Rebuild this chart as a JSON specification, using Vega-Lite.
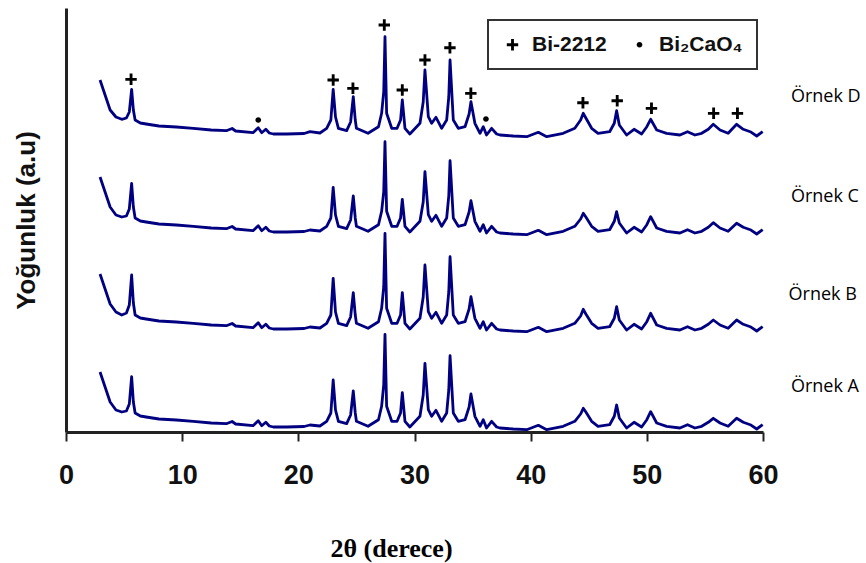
{
 "$schema": "https://vega.github.io/schema/vega-lite/v6.json",
 "width": 697,
 "height": 424,
 "autosize": {"type": "none"},
 "padding": {"left": 66, "top": 8, "right": 103, "bottom": 131},
 "background": "white",
 "config": {"view": {"stroke": null}, "legend": {"strokeWidth": 2}},
 "datasets": {
  "xrd": [
{"s":"D","x":2.93,"y":352},{"s":"D","x":3.8,"y":322},{"s":"D","x":4.3,"y":315},{"s":"D","x":4.8,"y":312.7},{"s":"D","x":5.2,"y":314},{"s":"D","x":5.45,"y":320},{"s":"D","x":5.65,"y":342.7},{"s":"D","x":5.8,"y":322},{"s":"D","x":5.95,"y":312},{"s":"D","x":6.4,"y":309},
{"s":"D","x":6.9,"y":308},{"s":"D","x":8,"y":306},{"s":"D","x":9.5,"y":305},{"s":"D","x":10.96,"y":303.7},{"s":"D","x":12.5,"y":302},{"s":"D","x":13.8,"y":301.3},{"s":"D","x":14.3,"y":303.5},{"s":"D","x":14.6,"y":301},{"s":"D","x":16.1,"y":299.3},{"s":"D","x":16.55,"y":304.3},
{"s":"D","x":16.85,"y":299.3},{"s":"D","x":17.2,"y":302.7},{"s":"D","x":17.5,"y":299},{"s":"D","x":17.85,"y":298},{"s":"D","x":19,"y":298},{"s":"D","x":20.5,"y":298.5},{"s":"D","x":21,"y":300.3},{"s":"D","x":21.86,"y":299},{"s":"D","x":22.44,"y":303.7},{"s":"D","x":22.8,"y":312},
{"s":"D","x":23,"y":342.7},{"s":"D","x":23.2,"y":315},{"s":"D","x":23.45,"y":303.7},{"s":"D","x":24.16,"y":301.3},{"s":"D","x":24.5,"y":310},{"s":"D","x":24.73,"y":335.3},{"s":"D","x":24.9,"y":312},{"s":"D","x":25,"y":303.7},{"s":"D","x":26,"y":298.7},{"s":"D","x":26.9,"y":305.3},
{"s":"D","x":27.17,"y":318.7},{"s":"D","x":27.35,"y":340},{"s":"D","x":27.46,"y":395.3},{"s":"D","x":27.6,"y":318.7},{"s":"D","x":28.04,"y":303.7},{"s":"D","x":28.5,"y":303.7},{"s":"D","x":28.8,"y":312},{"s":"D","x":28.95,"y":332},{"s":"D","x":29.18,"y":303.7},{"s":"D","x":29.6,"y":298},
{"s":"D","x":30.47,"y":308.7},{"s":"D","x":30.75,"y":330},{"s":"D","x":30.9,"y":362},{"s":"D","x":31.19,"y":315.3},{"s":"D","x":31.48,"y":308.7},{"s":"D","x":31.85,"y":314.7},{"s":"D","x":32.34,"y":303.7},{"s":"D","x":32.77,"y":312},{"s":"D","x":32.95,"y":335},{"s":"D","x":33.06,"y":372},
{"s":"D","x":33.34,"y":312},{"s":"D","x":33.77,"y":303.7},{"s":"D","x":34.35,"y":305.3},{"s":"D","x":34.7,"y":318},{"s":"D","x":34.86,"y":330.3},{"s":"D","x":35.2,"y":308.7},{"s":"D","x":35.64,"y":298.7},{"s":"D","x":35.92,"y":305.3},{"s":"D","x":36.2,"y":297},{"s":"D","x":36.64,"y":303.7},
{"s":"D","x":37.07,"y":298},{"s":"D","x":37.36,"y":297},{"s":"D","x":38.5,"y":296},{"s":"D","x":39.66,"y":295.3},{"s":"D","x":40.66,"y":299.7},{"s":"D","x":41.38,"y":295.3},{"s":"D","x":42.8,"y":298.7},{"s":"D","x":43.8,"y":303.7},{"s":"D","x":44.3,"y":312},{"s":"D","x":44.53,"y":318.7},
{"s":"D","x":44.75,"y":314},{"s":"D","x":45.25,"y":303.7},{"s":"D","x":45.8,"y":298.7},{"s":"D","x":46.8,"y":300.3},{"s":"D","x":47.2,"y":308.7},{"s":"D","x":47.4,"y":321.3},{"s":"D","x":47.63,"y":307},{"s":"D","x":48.26,"y":297},{"s":"D","x":48.9,"y":302.7},{"s":"D","x":49.55,"y":298},
{"s":"D","x":50,"y":305.3},{"s":"D","x":50.33,"y":312.7},{"s":"D","x":50.85,"y":302},{"s":"D","x":51.7,"y":298.7},{"s":"D","x":52.85,"y":297},{"s":"D","x":53.5,"y":300.3},{"s":"D","x":54.14,"y":297},{"s":"D","x":54.72,"y":298.7},{"s":"D","x":55.29,"y":302.7},{"s":"D","x":55.72,"y":307.7},
{"s":"D","x":56.3,"y":302},{"s":"D","x":57,"y":298.7},{"s":"D","x":57.73,"y":307.7},{"s":"D","x":58.3,"y":302.7},{"s":"D","x":58.9,"y":300.3},{"s":"D","x":59.46,"y":296},{"s":"D","x":59.97,"y":300.3},

{"s":"C","x":2.93,"y":255},{"s":"C","x":3.8,"y":225},{"s":"C","x":4.3,"y":217},{"s":"C","x":4.8,"y":215},{"s":"C","x":5.2,"y":216},{"s":"C","x":5.45,"y":223},{"s":"C","x":5.65,"y":248.7},{"s":"C","x":5.8,"y":225},{"s":"C","x":5.95,"y":214},{"s":"C","x":6.4,"y":211},
{"s":"C","x":6.9,"y":210},{"s":"C","x":8,"y":208},{"s":"C","x":9.5,"y":207},{"s":"C","x":10.96,"y":205.7},{"s":"C","x":12.5,"y":204},{"s":"C","x":13.8,"y":203.3},{"s":"C","x":14.3,"y":205.5},{"s":"C","x":14.6,"y":203},{"s":"C","x":16.1,"y":201.3},{"s":"C","x":16.55,"y":206.3},
{"s":"C","x":16.85,"y":201.3},{"s":"C","x":17.2,"y":204.7},{"s":"C","x":17.5,"y":201},{"s":"C","x":17.85,"y":200},{"s":"C","x":19,"y":200},{"s":"C","x":20.5,"y":200.5},{"s":"C","x":21,"y":202},{"s":"C","x":21.86,"y":201},{"s":"C","x":22.44,"y":205.7},{"s":"C","x":22.8,"y":214},
{"s":"C","x":23,"y":244.7},{"s":"C","x":23.2,"y":217},{"s":"C","x":23.45,"y":205.7},{"s":"C","x":24.16,"y":203.3},{"s":"C","x":24.5,"y":212},{"s":"C","x":24.73,"y":236},{"s":"C","x":24.9,"y":214},{"s":"C","x":25,"y":205.7},{"s":"C","x":26,"y":200.7},{"s":"C","x":26.9,"y":207.3},
{"s":"C","x":27.17,"y":220.7},{"s":"C","x":27.35,"y":240},{"s":"C","x":27.46,"y":290.3},{"s":"C","x":27.6,"y":220.7},{"s":"C","x":28.04,"y":205.7},{"s":"C","x":28.5,"y":205.7},{"s":"C","x":28.8,"y":214},{"s":"C","x":28.95,"y":232.7},{"s":"C","x":29.18,"y":205.7},{"s":"C","x":29.6,"y":200},
{"s":"C","x":30.47,"y":210.7},{"s":"C","x":30.75,"y":230},{"s":"C","x":30.9,"y":260.3},{"s":"C","x":31.19,"y":217.3},{"s":"C","x":31.48,"y":210.7},{"s":"C","x":31.85,"y":216.7},{"s":"C","x":32.34,"y":205.7},{"s":"C","x":32.77,"y":214},{"s":"C","x":32.95,"y":236},{"s":"C","x":33.06,"y":271.3},
{"s":"C","x":33.34,"y":214},{"s":"C","x":33.77,"y":205.7},{"s":"C","x":34.35,"y":207.3},{"s":"C","x":34.7,"y":220},{"s":"C","x":34.86,"y":231.3},{"s":"C","x":35.2,"y":210.7},{"s":"C","x":35.64,"y":200.7},{"s":"C","x":35.92,"y":207.3},{"s":"C","x":36.2,"y":199},{"s":"C","x":36.64,"y":205.7},
{"s":"C","x":37.07,"y":200},{"s":"C","x":37.36,"y":199},{"s":"C","x":38.5,"y":198},{"s":"C","x":39.66,"y":197.3},{"s":"C","x":40.66,"y":201.7},{"s":"C","x":41.38,"y":197.3},{"s":"C","x":42.8,"y":200.7},{"s":"C","x":43.8,"y":205.7},{"s":"C","x":44.3,"y":213},{"s":"C","x":44.53,"y":218.7},
{"s":"C","x":44.75,"y":215},{"s":"C","x":45.25,"y":205.7},{"s":"C","x":45.8,"y":200.7},{"s":"C","x":46.8,"y":202.3},{"s":"C","x":47.2,"y":210.7},{"s":"C","x":47.4,"y":220.3},{"s":"C","x":47.63,"y":209},{"s":"C","x":48.26,"y":199},{"s":"C","x":48.9,"y":204.7},{"s":"C","x":49.55,"y":200},
{"s":"C","x":50,"y":207.3},{"s":"C","x":50.33,"y":215.3},{"s":"C","x":50.85,"y":204},{"s":"C","x":51.7,"y":200.7},{"s":"C","x":52.85,"y":199},{"s":"C","x":53.5,"y":202.3},{"s":"C","x":54.14,"y":199},{"s":"C","x":54.72,"y":200.7},{"s":"C","x":55.29,"y":204.7},{"s":"C","x":55.72,"y":209.3},
{"s":"C","x":56.3,"y":204},{"s":"C","x":57,"y":200.7},{"s":"C","x":57.73,"y":208.7},{"s":"C","x":58.3,"y":204.7},{"s":"C","x":58.9,"y":202.3},{"s":"C","x":59.46,"y":198},{"s":"C","x":59.97,"y":202.3},

{"s":"B","x":2.93,"y":158},{"s":"B","x":3.8,"y":128},{"s":"B","x":4.3,"y":120},{"s":"B","x":4.8,"y":117},{"s":"B","x":5.2,"y":119},{"s":"B","x":5.45,"y":127},{"s":"B","x":5.65,"y":157},{"s":"B","x":5.8,"y":129},{"s":"B","x":5.95,"y":117},{"s":"B","x":6.4,"y":114},
{"s":"B","x":6.9,"y":113},{"s":"B","x":8,"y":111},{"s":"B","x":9.5,"y":110},{"s":"B","x":10.96,"y":108.7},{"s":"B","x":12.5,"y":107},{"s":"B","x":13.8,"y":106.3},{"s":"B","x":14.3,"y":108.5},{"s":"B","x":14.6,"y":106},{"s":"B","x":16.1,"y":104.3},{"s":"B","x":16.55,"y":109.3},
{"s":"B","x":16.85,"y":104.3},{"s":"B","x":17.2,"y":107.7},{"s":"B","x":17.5,"y":104},{"s":"B","x":17.85,"y":103},{"s":"B","x":19,"y":103},{"s":"B","x":20.5,"y":103.5},{"s":"B","x":21,"y":105},{"s":"B","x":21.86,"y":104},{"s":"B","x":22.44,"y":108.7},{"s":"B","x":22.8,"y":117},
{"s":"B","x":23,"y":153.7},{"s":"B","x":23.2,"y":120},{"s":"B","x":23.45,"y":108.7},{"s":"B","x":24.16,"y":106.3},{"s":"B","x":24.5,"y":115},{"s":"B","x":24.73,"y":139.3},{"s":"B","x":24.9,"y":117},{"s":"B","x":25,"y":108.7},{"s":"B","x":26,"y":103.7},{"s":"B","x":26.9,"y":110.3},
{"s":"B","x":27.17,"y":123.7},{"s":"B","x":27.35,"y":145},{"s":"B","x":27.46,"y":198.7},{"s":"B","x":27.6,"y":123.7},{"s":"B","x":28.04,"y":108.7},{"s":"B","x":28.5,"y":108.7},{"s":"B","x":28.8,"y":117},{"s":"B","x":28.95,"y":139.3},{"s":"B","x":29.18,"y":108.7},{"s":"B","x":29.6,"y":103},
{"s":"B","x":30.47,"y":113.7},{"s":"B","x":30.75,"y":135},{"s":"B","x":30.9,"y":167},{"s":"B","x":31.19,"y":120.3},{"s":"B","x":31.48,"y":113.7},{"s":"B","x":31.85,"y":119.7},{"s":"B","x":32.34,"y":108.7},{"s":"B","x":32.77,"y":117},{"s":"B","x":32.95,"y":140},{"s":"B","x":33.06,"y":175.3},
{"s":"B","x":33.34,"y":117},{"s":"B","x":33.77,"y":108.7},{"s":"B","x":34.35,"y":110.3},{"s":"B","x":34.7,"y":123},{"s":"B","x":34.86,"y":135.3},{"s":"B","x":35.2,"y":113.7},{"s":"B","x":35.64,"y":103.7},{"s":"B","x":35.92,"y":110.3},{"s":"B","x":36.2,"y":102},{"s":"B","x":36.64,"y":108.7},
{"s":"B","x":37.07,"y":103},{"s":"B","x":37.36,"y":102},{"s":"B","x":38.5,"y":101},{"s":"B","x":39.66,"y":100.3},{"s":"B","x":40.66,"y":104.7},{"s":"B","x":41.38,"y":100.3},{"s":"B","x":42.8,"y":103.7},{"s":"B","x":43.8,"y":108.7},{"s":"B","x":44.3,"y":116},{"s":"B","x":44.53,"y":122.7},
{"s":"B","x":44.75,"y":118},{"s":"B","x":45.25,"y":108.7},{"s":"B","x":45.8,"y":103.7},{"s":"B","x":46.8,"y":105.3},{"s":"B","x":47.2,"y":113.7},{"s":"B","x":47.4,"y":125.3},{"s":"B","x":47.63,"y":112},{"s":"B","x":48.26,"y":102},{"s":"B","x":48.9,"y":107.7},{"s":"B","x":49.55,"y":103},
{"s":"B","x":50,"y":110.3},{"s":"B","x":50.33,"y":118.7},{"s":"B","x":50.85,"y":107},{"s":"B","x":51.7,"y":103.7},{"s":"B","x":52.85,"y":102},{"s":"B","x":53.5,"y":105.3},{"s":"B","x":54.14,"y":102},{"s":"B","x":54.72,"y":103.7},{"s":"B","x":55.29,"y":107.7},{"s":"B","x":55.72,"y":112},
{"s":"B","x":56.3,"y":107},{"s":"B","x":57,"y":103.7},{"s":"B","x":57.73,"y":112},{"s":"B","x":58.3,"y":107.7},{"s":"B","x":58.9,"y":105.3},{"s":"B","x":59.46,"y":101},{"s":"B","x":59.97,"y":105.3},

{"s":"A","x":2.93,"y":60},{"s":"A","x":3.8,"y":30},{"s":"A","x":4.3,"y":22},{"s":"A","x":4.8,"y":20},{"s":"A","x":5.2,"y":21},{"s":"A","x":5.45,"y":28},{"s":"A","x":5.65,"y":55.3},{"s":"A","x":5.8,"y":30},{"s":"A","x":5.95,"y":19},{"s":"A","x":6.4,"y":16},
{"s":"A","x":6.9,"y":15},{"s":"A","x":8,"y":13},{"s":"A","x":9.5,"y":12},{"s":"A","x":10.96,"y":10.7},{"s":"A","x":12.5,"y":9},{"s":"A","x":13.8,"y":8.3},{"s":"A","x":14.3,"y":10.5},{"s":"A","x":14.6,"y":8},{"s":"A","x":16.1,"y":6.3},{"s":"A","x":16.55,"y":11.3},
{"s":"A","x":16.85,"y":6.3},{"s":"A","x":17.2,"y":9.7},{"s":"A","x":17.5,"y":6},{"s":"A","x":17.85,"y":5},{"s":"A","x":19,"y":5},{"s":"A","x":20.5,"y":5.5},{"s":"A","x":21,"y":7},{"s":"A","x":21.86,"y":6},{"s":"A","x":22.44,"y":10.7},{"s":"A","x":22.8,"y":19},
{"s":"A","x":23,"y":52},{"s":"A","x":23.2,"y":22},{"s":"A","x":23.45,"y":10.7},{"s":"A","x":24.16,"y":8.3},{"s":"A","x":24.5,"y":17},{"s":"A","x":24.73,"y":41},{"s":"A","x":24.9,"y":19},{"s":"A","x":25,"y":10.7},{"s":"A","x":26,"y":5.7},{"s":"A","x":26.9,"y":12.3},
{"s":"A","x":27.17,"y":25.7},{"s":"A","x":27.35,"y":47},{"s":"A","x":27.46,"y":97.7},{"s":"A","x":27.6,"y":25.7},{"s":"A","x":28.04,"y":10.7},{"s":"A","x":28.5,"y":10.7},{"s":"A","x":28.8,"y":19},{"s":"A","x":28.95,"y":39.3},{"s":"A","x":29.18,"y":10.7},{"s":"A","x":29.6,"y":5},
{"s":"A","x":30.47,"y":15.7},{"s":"A","x":30.75,"y":37},{"s":"A","x":30.9,"y":68.7},{"s":"A","x":31.19,"y":22.3},{"s":"A","x":31.48,"y":15.7},{"s":"A","x":31.85,"y":21.7},{"s":"A","x":32.34,"y":10.7},{"s":"A","x":32.77,"y":19},{"s":"A","x":32.95,"y":42},{"s":"A","x":33.06,"y":76.3},
{"s":"A","x":33.34,"y":19},{"s":"A","x":33.77,"y":10.7},{"s":"A","x":34.35,"y":12.3},{"s":"A","x":34.7,"y":25},{"s":"A","x":34.86,"y":38},{"s":"A","x":35.2,"y":15.7},{"s":"A","x":35.64,"y":5.7},{"s":"A","x":35.92,"y":12.3},{"s":"A","x":36.2,"y":4},{"s":"A","x":36.64,"y":10.7},
{"s":"A","x":37.07,"y":5},{"s":"A","x":37.36,"y":4},{"s":"A","x":38.5,"y":3},{"s":"A","x":39.66,"y":2.3},{"s":"A","x":40.66,"y":6.7},{"s":"A","x":41.38,"y":2.3},{"s":"A","x":42.8,"y":5.7},{"s":"A","x":43.8,"y":10.7},{"s":"A","x":44.3,"y":18},{"s":"A","x":44.53,"y":23.7},
{"s":"A","x":44.75,"y":20},{"s":"A","x":45.25,"y":10.7},{"s":"A","x":45.8,"y":5.7},{"s":"A","x":46.8,"y":7.3},{"s":"A","x":47.2,"y":15.7},{"s":"A","x":47.4,"y":27},{"s":"A","x":47.63,"y":14},{"s":"A","x":48.26,"y":4},{"s":"A","x":48.9,"y":9.7},{"s":"A","x":49.55,"y":5},
{"s":"A","x":50,"y":12.3},{"s":"A","x":50.33,"y":20.3},{"s":"A","x":50.85,"y":9},{"s":"A","x":51.7,"y":5.7},{"s":"A","x":52.85,"y":4},{"s":"A","x":53.5,"y":7.3},{"s":"A","x":54.14,"y":4},{"s":"A","x":54.72,"y":5.7},{"s":"A","x":55.29,"y":9.7},{"s":"A","x":55.72,"y":13.7},
{"s":"A","x":56.3,"y":9},{"s":"A","x":57,"y":5.7},{"s":"A","x":57.73,"y":13.7},{"s":"A","x":58.3,"y":9.7},{"s":"A","x":58.9,"y":7.3},{"s":"A","x":59.46,"y":3},{"s":"A","x":59.97,"y":7.3}
  ],
  "markers": [
   {"phase":"Bi-2212","x":5.6,"y":352.7},{"phase":"Bi-2212","x":23.0,"y":352},{"phase":"Bi-2212","x":24.7,"y":343.7},{"phase":"Bi-2212","x":27.4,"y":407},{"phase":"Bi-2212","x":28.95,"y":342},{"phase":"Bi-2212","x":30.9,"y":372},{"phase":"Bi-2212","x":33.05,"y":384.3},{"phase":"Bi-2212","x":34.85,"y":338.7},{"phase":"Bi-2212","x":44.5,"y":329.3},{"phase":"Bi-2212","x":47.45,"y":331.3},{"phase":"Bi-2212","x":50.4,"y":323.7},{"phase":"Bi-2212","x":55.75,"y":318.7},{"phase":"Bi-2212","x":57.8,"y":318.7},
   {"phase":"Bi₂CaO₄","x":16.55,"y":312},{"phase":"Bi₂CaO₄","x":36.15,"y":313}
  ],
  "labels": [
   {"label":"Örnek D","x":62.4,"y":335.3},{"label":"Örnek C","x":62.4,"y":235.3},{"label":"Örnek B","x":62.2,"y":137.5},{"label":"Örnek A","x":62.4,"y":45.3}
  ]
 },
 "layer": [
  {
   "data": {"name": "xrd"},
   "mark": {"type": "line", "color": "#000080", "strokeWidth": 2.8, "strokeJoin": "round"},
   "encoding": {
    "x": {"field": "x", "type": "quantitative",
     "scale": {"domain": [0, 60], "nice": false, "zero": false},
     "axis": {"values": [0, 10, 20, 30, 40, 50, 60], "title": "2θ (derece)", "grid": false,
      "domainColor": "#222", "domainWidth": 3, "tickColor": "#222", "tickWidth": 2, "tickSize": 9,
      "labelFont": "Liberation Sans", "labelFontSize": 27, "labelFontWeight": "bold", "labelColor": "#111",
      "labelPadding": 21, "labelFlush": false, "labelOverlap": false,
      "titleFont": "Liberation Serif", "titleFontSize": 26, "titleFontWeight": "bold", "titleColor": "black",
      "titleX": 325, "titleY": 116, "titleBaseline": "middle", "titleAlign": "center"}},
    "y": {"field": "y", "type": "quantitative",
     "scale": {"domain": [0, 424], "nice": false, "zero": false},
     "axis": {"title": "Yoğunluk (a.u)", "grid": false, "ticks": false, "labels": false,
      "domainColor": "#222", "domainWidth": 3,
      "titleFont": "Liberation Sans", "titleFontSize": 26, "titleFontWeight": "bold", "titleColor": "#111",
      "titleX": -40, "titleY": 212, "titleAngle": -90, "titleBaseline": "middle", "titleAlign": "center"}},
    "detail": {"field": "s"}
   }
  },
  {
   "data": {"name": "markers"},
   "mark": {"type": "point", "filled": true, "color": "black", "size": 130, "opacity": 1, "strokeWidth": 0},
   "encoding": {
    "x": {"field": "x", "type": "quantitative"},
    "y": {"field": "y", "type": "quantitative"},
    "shape": {"field": "phase", "type": "nominal",
     "scale": {"domain": ["Bi-2212", "Bi₂CaO₄"],
      "range": ["M-1,-0.25H-0.25V-1H0.25V-0.25H1V0.25H0.25V1H-0.25V0.25H-1Z", "M-0.5,0A0.5,0.5 0 1,0 0.5,0A0.5,0.5 0 1,0 -0.5,0Z"]},
     "legend": {"title": null, "orient": "none", "legendX": 422, "legendY": 12, "direction": "horizontal",
      "strokeColor": "#333", "fillColor": "white", "padding": 14, "cornerRadius": 0,
      "labelFont": "Liberation Sans", "labelFontSize": 21, "labelFontWeight": "bold", "labelColor": "#111",
      "labelOffset": 9, "columnPadding": 22, "symbolSize": 130,
      "symbolFillColor": "black", "symbolStrokeColor": "black", "symbolStrokeWidth": 0}}
   }
  },
  {
   "data": {"name": "labels"},
   "mark": {"type": "text", "font": "Open Sans", "fontSize": 18, "align": "left", "baseline": "middle", "color": "black"},
   "encoding": {
    "x": {"field": "x", "type": "quantitative"},
    "y": {"field": "y", "type": "quantitative"},
    "text": {"field": "label"}
   }
  }
 ]
}
